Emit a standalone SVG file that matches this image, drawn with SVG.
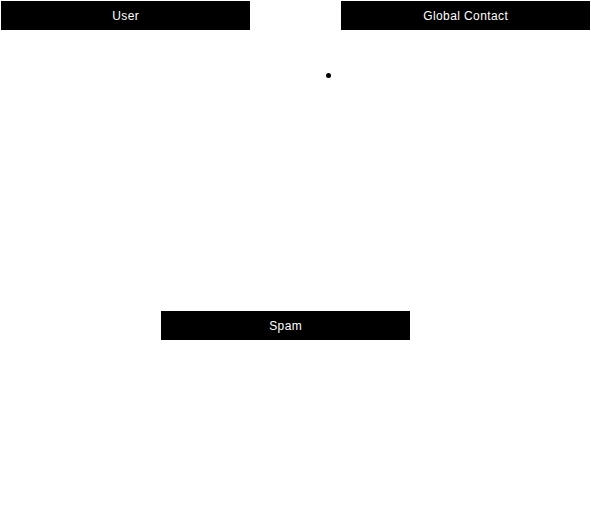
<svg xmlns="http://www.w3.org/2000/svg" width="591" height="521" viewBox="0 0 591 521">
<style>
.box{fill:#000;}
.lbl{fill:#fff;font-family:"Liberation Sans",Arial,sans-serif;font-size:12px;letter-spacing:0.4px;text-anchor:middle;dominant-baseline:central;}
</style>
<rect width="591" height="521" fill="#fff"/>
<g id="user"><rect class="box" x="1" y="1" width="249" height="29"/><text class="lbl" x="125.7" y="15.5">User</text></g>
<g id="global-contact"><rect class="box" x="341" y="1" width="249" height="29"/><text class="lbl" x="465.7" y="15.5">Global Contact</text></g>
<g id="spam"><rect class="box" x="161" y="311" width="249" height="29"/><text class="lbl" x="285.7" y="325.5">Spam</text></g>
<g id="connectors"><circle cx="328.5" cy="75.5" r="2.5" fill="#000"/></g>
</svg>
